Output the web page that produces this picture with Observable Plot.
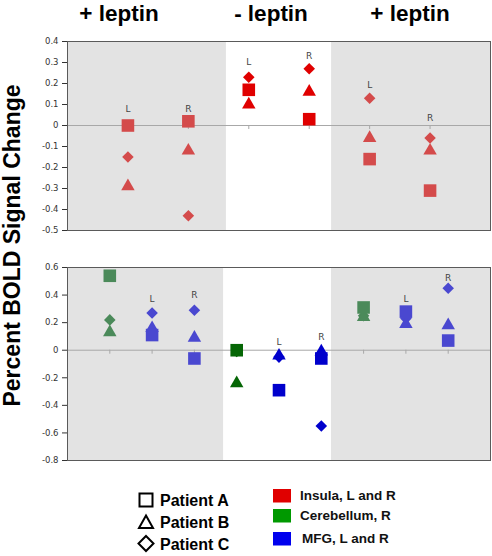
<!DOCTYPE html>
<html>
<head>
<meta charset="utf-8">
<script src="https://cdn.jsdelivr.net/npm/d3@7"></script>
<script src="https://cdn.jsdelivr.net/npm/@observablehq/plot@0.6"></script>
<style>
  html, body { margin: 0; padding: 0; background: #fff; }
  #wrap { position: relative; width: 492px; height: 556px; overflow: hidden; background: #fff; }
  .panel { position: absolute; left: 0; }
  #overlay { position: absolute; left: 0; top: 0; pointer-events: none; }
</style>
</head>
<body>
<div id="wrap">
  <div id="top" class="panel" style="top:30px"></div>
  <div id="bottom" class="panel" style="top:250px"></div>
  <svg id="overlay" width="492" height="556"></svg>
</div>
<script>
// ---------- data ----------
const phaseTitles = ["+ leptin", "- leptin", "+ leptin"];

// Top panel: Insula, L and R
const topSide   = ["L", "R", "L", "R", "L", "R"];
const topPhase  = ["+", "+", "-", "-", "+", "+"];
const topA      = [0.00, 0.02, 0.17, 0.03, -0.16, -0.31];  // Patient A (square)
const topB      = [-0.29, -0.12, 0.10, 0.16, -0.06, -0.12]; // Patient B (triangle)
const topC      = [-0.15, -0.43, 0.23, 0.27, 0.13, -0.06];  // Patient C (diamond)
const topLabelY = [0.08, 0.08, 0.30, 0.33, 0.19, 0.035];
const topTicks  = [0.4, 0.3, 0.2, 0.1, 0, -0.1, -0.2, -0.3, -0.4, -0.5];

// Bottom panel: Cerebellum R and MFG L/R
const botRegion = ["Cerebellum", "MFG", "MFG", "Cerebellum", "MFG", "MFG", "Cerebellum", "MFG", "MFG"];
const botSide   = ["", "L", "R", "", "L", "R", "", "L", "R"];
const botPhase  = ["+", "+", "+", "-", "-", "-", "+", "+", "+"];
const botA      = [0.54, 0.11, -0.06, 0.00, -0.29, -0.06, 0.31, 0.28, 0.07];
const botB      = [0.13, 0.16, 0.09, -0.24, -0.04, -0.01, 0.24, 0.19, 0.18];
const botC      = [0.22, 0.27, 0.29, -0.01, -0.05, -0.55, 0.25, 0.23, 0.45];
const botLabelY = [null, 0.37, 0.40, null, 0.06, 0.095, null, 0.37, 0.52];
const botTicks  = [0.6, 0.4, 0.2, 0, -0.2, -0.4, -0.6, -0.8];

const patients = ["Patient A", "Patient B", "Patient C"];
const regions  = ["Insula, L and R", "Cerebellum, R", "MFG, L and R"];

// ---------- styles ----------
const colors = {
  Insula:     {"+": "#d44b4b", "-": "#e00000"},
  Cerebellum: {"+": "#4b8a5a", "-": "#056605"},
  MFG:        {"+": "#4a48d0", "-": "#0000cc"}
};
const legendColors = ["#e00000", "#009900", "#0000ee"];
const symbols = [
  {sym: "square",   r: 7.1},
  {sym: "triangle", r: 5.0},
  {sym: "diamond2", r: 5.2}
];
const fmt = d => d === 0 ? "0" : d.toFixed(1);

function panel({n, region, phase, series, side, labelY, ticks, shade, height, marginTop}) {
  const idx = d3.range(n);
  const pos = i => i + 1;
  const fillOf = i => colors[region(i)][phase[i]];
  const marks = [
    Plot.rect(shade, {x1: "x1", x2: "x2", fill: "#e3e3e3"}),
    Plot.ruleY([0], {stroke: "#a8a8a8", strokeWidth: 1}),
    Plot.ruleX(idx, {x: pos, y1: () => 0, y2: () => 0, insetBottom: -4, stroke: "#a8a8a8"}),
    Plot.text(idx.filter(i => labelY[i] != null), {
      x: pos, y: i => labelY[i], text: i => side[i],
      fill: "#444", fontSize: 9, fontFamily: "DejaVu Sans"
    })
  ];
  // draw diamonds, then triangles, then squares on top
  [2, 1, 0].forEach(p => {
    marks.push(Plot.dot(idx, {
      x: pos, y: i => series[p][i], symbol: symbols[p].sym, r: symbols[p].r,
      fill: fillOf, stroke: "none"
    }));
  });
  marks.push(Plot.frame({stroke: "#5a5a5a", strokeWidth: 1}));
  return Plot.plot({
    width: 492, height, marginLeft: 67, marginRight: 2, marginTop, marginBottom: 10,
    x: {domain: [0, n + 1], axis: null},
    y: {domain: [ticks[ticks.length - 1], ticks[0]], ticks, tickFormat: fmt, tickSize: 5, tickPadding: 4, label: null},
    color: {type: "identity"},
    style: {fontFamily: "DejaVu Sans", fontSize: "8.5px", color: "#333", background: "transparent", overflow: "visible"},
    marks
  });
}

document.getElementById("top").appendChild(panel({
  n: 6, region: () => "Insula", phase: topPhase, series: [topA, topB, topC],
  side: topSide, labelY: topLabelY, ticks: topTicks,
  shade: [{x1: 0, x2: 2.63}, {x1: 4.37, x2: 7}], height: 210, marginTop: 11
}));
document.getElementById("bottom").appendChild(panel({
  n: 9, region: i => botRegion[i], phase: botPhase, series: [botA, botB, botC],
  side: botSide, labelY: botLabelY, ticks: botTicks,
  shade: [{x1: 0, x2: 3.69}, {x1: 6.24, x2: 10}], height: 220, marginTop: 17
}));

// ---------- overlay: titles, y label, legend ----------
const svg = d3.select("#overlay");
const bold = "'Liberation Sans', Arial, sans-serif";
const titleX = [119, 271, 410];
svg.selectAll("text.title").data(phaseTitles).join("text")
  .attr("x", (d, i) => titleX[i]).attr("y", 21)
  .attr("text-anchor", "middle").attr("font-family", bold).attr("font-weight", "bold")
  .attr("font-size", 22.5).attr("fill", "#000").text(d => d);

svg.append("text")
  .attr("transform", "translate(20,245.5) rotate(-90)")
  .attr("text-anchor", "middle").attr("font-family", bold).attr("font-weight", "bold")
  .attr("font-size", 23).attr("fill", "#000").text("Percent BOLD Signal Change");

// patient legend
const legY = [500, 522, 543.5];
const shapePath = [
  d3.symbol(d3.symbolSquare, 13 * 13)(),
  "M0,-6.5L7,6L-7,6Z",
  "M0,-7.5L7.5,0L0,7.5L-7.5,0Z"
];
patients.forEach((p, i) => {
  svg.append("path").attr("d", shapePath[i])
    .attr("transform", `translate(146,${legY[i]})`)
    .attr("fill", "none").attr("stroke", "#000").attr("stroke-width", 2);
  svg.append("text").attr("x", 160).attr("y", legY[i] + 6)
    .attr("font-family", bold).attr("font-weight", "bold").attr("font-size", 16)
    .attr("fill", "#000").text(p);
});
// region legend
const regY = [489, 509, 532];
regions.forEach((r, i) => {
  svg.append("rect").attr("x", 273).attr("y", regY[i]).attr("width", 18).attr("height", 13.5)
    .attr("fill", legendColors[i]);
  svg.append("text").attr("x", i === 2 ? 302 : 300).attr("y", regY[i] + 10.5)
    .attr("font-family", bold).attr("font-weight", "bold").attr("font-size", 13.5)
    .attr("fill", "#111").text(r);
});
</script>
</body>
</html>
